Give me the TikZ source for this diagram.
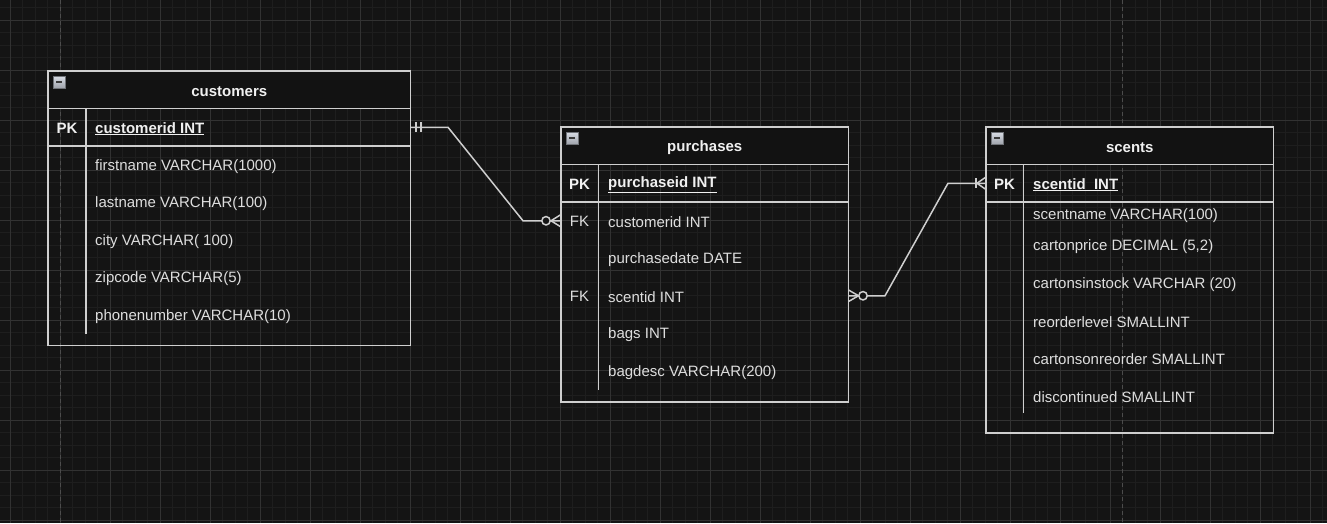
\documentclass[tikz,border=0pt]{standalone}
\usepackage{fontspec}
\setmainfont{Liberation Sans}
\definecolor{bgcol}{HTML}{141414}
\definecolor{minorgrid}{HTML}{1E1E1E}
\definecolor{majorgrid}{HTML}{323232}
\definecolor{pagecol}{HTML}{4C4C4C}
\definecolor{hdrfill}{HTML}{121212}
\definecolor{tblline}{HTML}{CFCFCF}
\definecolor{txtcol}{HTML}{DEDEDE}
\definecolor{hdrtxt}{HTML}{F0F0F0}
\definecolor{iconfillA}{HTML}{D8DCE4}
\definecolor{iconfillB}{HTML}{A0A4AC}
\definecolor{icondash}{HTML}{3A3A3A}
\begin{document}
\begin{tikzpicture}[x=1pt,y=-1pt,
  tblbox/.style={draw=tblline, line width=1.5pt, inner sep=0pt, outer sep=0pt, anchor=north west, rectangle},
  hdrbox/.style={fill=hdrfill, inner sep=0pt, outer sep=0pt, anchor=north west, rectangle, minimum height=37.5pt},
  titletext/.style={anchor=center, inner sep=0pt, text=hdrtxt, font=\fontsize{15}{18}\selectfont\bfseries, yshift=-1.5pt},
  rowbox/.style={inner sep=0pt, outer sep=0pt, anchor=north west, rectangle, minimum height=37.5pt},
  seprule/.style={draw=tblline, line width=1.5pt},
  colrule/.style={draw=tblline, line width=1.3pt},
  fieldtext/.style={anchor=west, inner sep=0pt, text=txtcol, font=\fontsize{15}{18}\selectfont, yshift=-1.5pt},
  keytext/.style={anchor=west, inner sep=0pt, text=hdrtxt, font=\fontsize{15}{18}\selectfont\bfseries, yshift=-1.5pt},
  pklabel/.style={anchor=center, inner sep=0pt, text=hdrtxt, font=\fontsize{15}{18}\selectfont\bfseries, yshift=-1pt},
  fklabel/.style={anchor=center, inner sep=0pt, text=txtcol, font=\fontsize{15}{18}\selectfont, yshift=-1pt},
  iconbox/.style={anchor=north west, inner sep=0pt, outer sep=0pt, minimum width=12pt, minimum height=12pt,
     draw=iconfillB!70!black, line width=0.6pt, top color=iconfillA, bottom color=iconfillB,
     path picture={\draw[icondash, line width=2pt] ([xshift=3pt]path picture bounding box.west) -- ([xshift=-3pt]path picture bounding box.east);}},
  conn/.style={draw=tblline, line width=1.5pt},
  erring/.style={draw=tblline, line width=1.5pt, fill=bgcol}
]
\useasboundingbox (0,0) rectangle (1327,523);
% background and grid
\fill[bgcol] (0,0) rectangle (1327,523);
\foreach \i in {-1,...,106} {\draw[minorgrid, line width=1pt] ({10+12.5*\i},0) -- ({10+12.5*\i},523);}
\foreach \i in {-1,...,40} {\draw[minorgrid, line width=1pt] (0,{20+12.5*\i}) -- (1327,{20+12.5*\i});}
\foreach \i in {0,...,26} {\draw[majorgrid, line width=1pt] ({10+50*\i},0) -- ({10+50*\i},523);}
\foreach \i in {0,...,10} {\draw[majorgrid, line width=1pt] (0,{20+50*\i}) -- (1327,{20+50*\i});}
\draw[pagecol, line width=1pt, dash pattern=on 4pt off 3pt] (60,0) -- (60,523);
\draw[pagecol, line width=1pt, dash pattern=on 4pt off 3pt] (1122.5,0) -- (1122.5,523);

% ---------------- customers ----------------
\node[hdrbox, minimum width=362.5pt] (custhead) at (48,71) {};
\node[titletext] (custtitle) at (custhead.center) {customers};
\node[rowbox, minimum width=362.5pt] (custpk) at (48,108.5) {};
\node[tblbox, minimum width=362.5pt, minimum height=274.5pt] (customers) at (48,71) {};
\draw[seprule] (custhead.south west) -- (custhead.south east);
\draw[seprule] (custpk.south west) -- (custpk.south east);
\draw[colrule] (86,108.5) -- (86,333.5);
\node[iconbox] (custicon) at (53,76) {};
\node[pklabel] (custpklbl) at (67,127.25) {PK};
\node[keytext] (custkey) at (95,127.25) {\underline{customerid INT}};
\node[fieldtext] (custf1) at (95,164.75) {firstname VARCHAR(1000)};
\node[fieldtext] (custf2) at (95,202.25) {lastname VARCHAR(100)};
\node[fieldtext] (custf3) at (95,239.75) {city VARCHAR( 100)};
\node[fieldtext] (custf4) at (95,277.25) {zipcode VARCHAR(5)};
\node[fieldtext] (custf5) at (95,314.75) {phonenumber VARCHAR(10)};

% ---------------- purchases ----------------
\node[hdrbox, minimum width=287.5pt] (purhead) at (561,127) {};
\node[titletext] (purtitle) at (purhead.center) {purchases};
\node[rowbox, minimum width=287.5pt] (purpk) at (561,164.5) {};
\node[rowbox, minimum width=287.5pt] (purcust) at (561,202) {};
\node[rowbox, minimum width=287.5pt] (purscent) at (561,277) {};
\node[tblbox, minimum width=287.5pt, minimum height=275pt] (purchases) at (561,127) {};
\draw[seprule] (purhead.south west) -- (purhead.south east);
\draw[seprule] (purpk.south west) -- (purpk.south east);
\draw[colrule] (598.5,164.5) -- (598.5,389.5);
\node[iconbox] (puricon) at (566,132) {};
\node[pklabel] (purpklbl) at (579.5,183.25) {PK};
\node[keytext] (purkey) at (608,183.25) {\underline{purchaseid INT}};
\node[fklabel] (purfk1) at (579.5,220.75) {FK};
\node[fieldtext] (purf1) at (608,220.75) {customerid INT};
\node[fieldtext] (purf2) at (608,258.25) {purchasedate DATE};
\node[fklabel] (purfk2) at (579.5,295.75) {FK};
\node[fieldtext] (purf3) at (608,295.75) {scentid INT};
\node[fieldtext] (purf4) at (608,333.25) {bags INT};
\node[fieldtext] (purf5) at (608,370.75) {bagdesc VARCHAR(200)};

% ---------------- scents ----------------
\node[hdrbox, minimum width=287.5pt] (scenthead) at (986,127) {};
\node[titletext] (scenttitle) at (scenthead.center) {scents};
\node[rowbox, minimum width=287.5pt] (scentpk) at (986,164.5) {};
\node[tblbox, minimum width=287.5pt, minimum height=306pt] (scents) at (986,127) {};
\draw[seprule] (scenthead.south west) -- (scenthead.south east);
\draw[seprule] (scentpk.south west) -- (scentpk.south east);
\draw[colrule] (1023.5,164.5) -- (1023.5,413);
\node[iconbox] (scenticon) at (991,132) {};
\node[pklabel] (scentpklbl) at (1004.5,183.25) {PK};
\node[keytext] (scentkey) at (1033,183.25) {\underline{scentid\ \ INT}};
\node[fieldtext] (scentf1) at (1033,214.5) {scentname VARCHAR(100)};
\node[fieldtext] (scentf2) at (1033,245.5) {cartonprice DECIMAL (5,2)};
\node[fieldtext] (scentf3) at (1033,283) {cartonsinstock VARCHAR (20)};
\node[fieldtext] (scentf4) at (1033,320.5) {reorderlevel SMALLINT};
\node[fieldtext] (scentf5) at (1033,358) {cartonsonreorder SMALLINT};
\node[fieldtext] (scentf6) at (1033,395.5) {discontinued SMALLINT};

% ---------------- connectors ----------------
% customers (1) -- (0..n) purchases
\draw[conn] (custpk.east) -- ++(37.5,0) -- ([xshift=-38pt]purcust.west) -- (purcust.west);
\draw[conn] ([xshift=5.5pt]custpk.east) ++(0,-5) -- ++(0,10);
\draw[conn] ([xshift=10.5pt]custpk.east) ++(0,-5) -- ++(0,10);
\draw[conn] ([xshift=-10pt]purcust.west) -- ([yshift=6.25pt]purcust.west);
\draw[conn] ([xshift=-10pt]purcust.west) -- ([yshift=-6.25pt]purcust.west);
\draw[erring] ([xshift=-15pt]purcust.west) circle (4.2);

% purchases (0..n) -- (1..n) scents
\draw[conn] (purscent.east) -- ++(36.5,0) -- ([xshift=-38pt]scentpk.west) -- (scentpk.west);
\draw[conn] ([xshift=10pt]purscent.east) -- ([yshift=5.75pt]purscent.east);
\draw[conn] ([xshift=10pt]purscent.east) -- ([yshift=-5.75pt]purscent.east);
\draw[erring] ([xshift=14.5pt]purscent.east) circle (4.2);
\draw[conn] ([xshift=-10pt]scentpk.west) ++(0,-5) -- ++(0,10);
\draw[conn] ([xshift=-9pt]scentpk.west) -- ([yshift=6.25pt]scentpk.west);
\draw[conn] ([xshift=-9pt]scentpk.west) -- ([yshift=-6.25pt]scentpk.west);
\end{tikzpicture}
\end{document}
